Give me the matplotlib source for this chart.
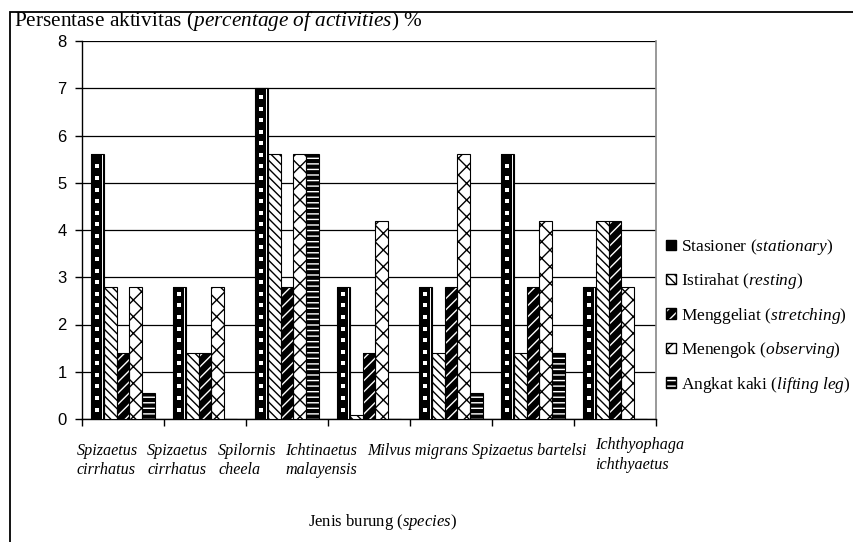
import numpy as np
import matplotlib
matplotlib.use("Agg")
import matplotlib.pyplot as plt
from matplotlib.patches import Patch, Rectangle
from matplotlib.legend_handler import HandlerTuple

plt.rcParams["font.family"] = "Liberation Serif"
plt.rcParams["mathtext.fontset"] = "custom"
plt.rcParams["mathtext.rm"] = "Liberation Serif"
plt.rcParams["mathtext.it"] = "Liberation Serif:italic"
plt.rcParams["hatch.linewidth"] = 1.0

species = ["Spizaetus\ncirrhatus", "Spizaetus\ncirrhatus", "Spilornis\ncheela",
           "Ichtinaetus\nmalayensis", "Milvus migrans", "Spizaetus bartelsi",
           "Ichthyophaga\nichthyaetus"]

activities = [r"Stasioner ($\it{stationary}$)",
              r"Istirahat ($\it{resting}$)",
              r"Menggeliat ($\it{stretching}$)",
              r"Menengok ($\it{observing}$)",
              r"Angkat kaki ($\it{lifting\ leg}$)"]

stationary = [5.6, 2.8, 7.0, 2.8, 2.8, 5.6, 2.8]
resting = [2.8, 1.4, 5.6, 0.08, 1.4, 1.4, 4.2]
stretching = [1.4, 1.4, 2.8, 1.4, 2.8, 2.8, 4.2]
observing = [2.8, 2.8, 5.6, 4.2, 5.6, 4.2, 2.8]
lifting = [0.56, 0.0, 5.6, 0.0, 0.56, 1.4, 0.0]

series = [stationary, resting, stretching, observing, lifting]

W, H = 854, 542
fig = plt.figure(figsize=(W / 100, H / 100), dpi=100)
ax = fig.add_axes([82 / W, 1 - 419 / H, (656 - 82) / W, (419 - 41) / H])

x = np.arange(len(species))
w = 1 / 6.5
# face colour, hatch, hatch colour for each activity
styles = [
    ("black", None, "black"),
    ("white", "\\\\\\\\", "black"),
    ("black", "///", "white"),
    ("white", "xx", "black"),
    ("black", "---", "white"),
]

handles = []
for k, (vals, (fc, hatch, hc), lab) in enumerate(zip(series, styles, activities)):
    pos = x + (k - 2) * w
    ax.bar(pos, vals, width=w, facecolor=fc, edgecolor=hc, hatch=hatch,
           linewidth=0, zorder=3)
    ax.bar(pos, vals, width=w, fill=False, edgecolor="black", linewidth=0.8,
           zorder=5)
    fill = Patch(facecolor=fc, edgecolor=hc, hatch=hatch, linewidth=0)
    edge = Patch(fill=False, edgecolor="black", linewidth=1.0)
    handles.append((fill, edge))

# white square dots running up the stationary bars
for xi, h in zip(x - 2 * w, stationary):
    ys = np.arange(0.2, h - 0.1, 0.245)
    ax.scatter(np.full_like(ys, xi - 0.005), ys, marker="s", s=12,
               color="white", linewidths=0, zorder=4)
    ax.plot([xi + w * 0.33] * 2, [0, h], color="white", lw=0.7, zorder=4)

ax.set_xlim(-0.5, len(species) - 0.5)
ax.set_ylim(0, 8)
ax.set_yticks(range(0, 9))
ax.yaxis.grid(True, color="black", linewidth=0.9, zorder=0)
ax.set_axisbelow(True)
for lbl in ax.get_yticklabels():
    lbl.set_family("Liberation Sans")
ax.tick_params(axis="y", direction="out", length=5, width=1, labelsize=12,
               pad=6)

ax.set_xticks([])
ax.set_xticks(np.arange(-0.5, len(species)), minor=True)
ax.tick_params(axis="x", which="minor", direction="out", length=5, width=1)

ax.spines["top"].set_visible(False)
ax.spines["right"].set_color("#888888")
ax.spines["right"].set_linewidth(1.2)
ax.spines["left"].set_linewidth(1.0)
ax.spines["bottom"].set_linewidth(1.0)

# species names sit a little to the left of their groups
label_x = [-0.561, 0.293, 1.159, 1.976, 2.976, 4.256, 5.756]
label_y = [-0.063, -0.063, -0.063, -0.063, -0.063, -0.063, -0.048]
trans = ax.get_xaxis_transform()
for lx, ly, name in zip(label_x, label_y, species):
    ax.text(lx, ly, name, transform=trans, ha="left", va="top",
            style="italic", fontsize=11.6, linespacing=1.3)

fig.text(14 / W, 1 - 21 / H,
         r"Persentase aktivitas ($\it{percentage\ of\ activities}$) %",
         fontsize=15.3, ha="left", va="center")
fig.text(383 / W, 1 - 522 / H, r"Jenis burung ($\it{species}$)",
         fontsize=12, ha="center", va="center")

fig.legend(handles=handles, labels=activities, loc="upper left",
           handler_map={tuple: HandlerTuple(ndivide=1, pad=0)},
           bbox_to_anchor=(666 / W, 1 - 237 / H), frameon=False,
           fontsize=12.5, handlelength=0.55, handleheight=0.55,
           handletextpad=0.3, labelspacing=0.83, borderpad=0,
           borderaxespad=0)

# outer chart frame
fig.add_artist(Rectangle((10 / W, -0.1), 1.2, 1.1 - 12 / H,
                         transform=fig.transFigure, fill=False,
                         edgecolor="black", linewidth=1.3))

fig.savefig("out.png", dpi=100)
